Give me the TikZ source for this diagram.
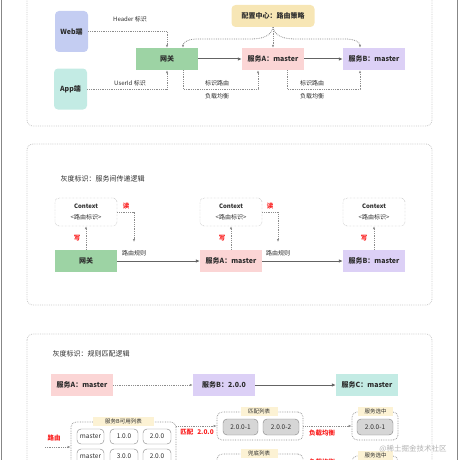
\documentclass[tikz,border=0pt]{standalone}
\usepackage{fontspec}
\setmainfont{Noto Sans CJK SC}
\usetikzlibrary{arrows.meta}

\begin{document}
\begin{tikzpicture}[x=1pt,y=-1pt,
    panel/.style={draw=panelgray,densely dotted,line width=0.8pt,rounded corners=6pt},
    svc/.style={minimum width=62pt,minimum height=22pt,inner sep=0pt,text=textdark,
        font=\fontsize{7}{8}\selectfont\bfseries},
    client/.style={svc,rounded corners=4pt,minimum width=33pt,minimum height=41pt},
    ctxbox/.style={draw=linegray,densely dotted,rounded corners=4pt,minimum width=62pt,
        minimum height=28pt,inner sep=0pt,align=center,text=textdark,font=\fontsize{6}{11}\selectfont},
    lbl/.style={text=textdark,font=\fontsize{6}{7}\selectfont},
    redlbl/.style={text=markred,font=\fontsize{6.5}{7}\selectfont\bfseries},
    flow/.style={arrowgray,line width=1pt,-{Latex[length=4pt,width=3.5pt]}},
    hint/.style={linegray,densely dotted,line width=0.8pt,-{Latex[length=3pt,width=2.5pt]}},
    group/.style={draw=linegray,densely dotted,line width=0.7pt,rounded corners=5pt,inner sep=0pt},
    tag/.style={fill=tagyellow,inner sep=0pt,minimum height=9pt,text=textdark,font=\fontsize{5.5}{6}\selectfont},
    pill/.style={draw=pillborder,rounded corners=4pt,fill=white,minimum width=27pt,
        minimum height=15pt,inner sep=0pt,text=textdark,font=\fontsize{6.5}{7}\selectfont},
    greypill/.style={pill,fill=pillgray,minimum width=35pt,minimum height=16pt}]

    \definecolor{panelgray}{RGB}{200,200,200}
    \definecolor{linegray}{RGB}{140,140,140}
    \definecolor{arrowgray}{RGB}{100,100,100}
    \definecolor{framegray}{RGB}{135,135,135}
    \definecolor{textdark}{RGB}{45,45,45}
    \definecolor{markred}{RGB}{250,30,30}
    \definecolor{gwgreen}{RGB}{157,211,164}
    \definecolor{svcpink}{RGB}{251,213,213}
    \definecolor{svclilac}{RGB}{220,208,246}
    \definecolor{webblue}{RGB}{196,205,242}
    \definecolor{appcyan}{RGB}{195,235,228}
    \definecolor{cfgyellow}{RGB}{247,230,181}
    \definecolor{tagyellow}{RGB}{252,242,212}
    \definecolor{pillgray}{RGB}{214,214,214}
    \definecolor{pillborder}{RGB}{130,130,130}

    % Page size, with what runs past the edge cut off
    \path[use as bounding box,clip] (0,0) rectangle (460,460);

    % Draw the outer frame and the three panels
    \draw[framegray,line width=1pt] (1,-5) -- (1,465);
    \draw[framegray,line width=1pt] (457,-5) -- (457,465);
    \draw[panel] (27,-10) rectangle (432,126);
    \draw[panel] (27,144) rectangle (432,305);
    \draw[panel] (27,334) rectangle (432,500);

    % Panel 1: clients, gateway, services and the config centre
    \node[client,fill=webblue] (web) at (71.5,31.5) {Web端};
    \node[client,fill=appcyan] (app) at (70.5,89) {App端};
    \node[svc,fill=gwgreen] (gw1) at (167,59) {网关};
    \node[svc,fill=svcpink] (sa1) at (273,59) {服务A：master};
    \node[svc,fill=svclilac] (sb1) at (374,59) {服务B：master};
    \node[svc,fill=cfgyellow,rounded corners=4pt,minimum width=83pt] (cfg) at (273,16) {配置中心：路由策略};

    % Draw the identifying paths into the gateway
    \draw[hint] (web.east) -| (gw1.north);
    \draw[hint] (app.east) -| (gw1.south);
    \node[lbl] (headertxt) at (130,19) {Header 标识};
    \node[lbl] (useridtxt) at (130,83) {UserId 标识};

    % Draw the calls
    \draw[flow] (gw1) -- (sa1);
    \draw[flow] (sa1) -- (sb1);

    % Draw the strategy pushed out from the config centre
    \draw[hint] (cfg.south) to[out=-100,in=0] (250,39) -- (196,39) to[out=180,in=90] ([xshift=16pt]gw1.north);
    \draw[hint] (cfg.south) -- (sa1.north);
    \draw[hint] (cfg.south) to[out=-80,in=180] (296,39) -- (347,39) to[out=0,in=90] ([xshift=-14pt]sb1.north);

    % Draw the routing and balancing paths
    \coordinate (lb1) at (183,89);
    \coordinate (lb2) at (287,89);
    \draw[hint] ([xshift=16pt]gw1.south) -- (lb1) -| ([xshift=-15pt]sa1.south);
    \draw[hint] ([xshift=14pt]sa1.south) -- (lb2) -| ([xshift=-14pt]sb1.south);
    \node[lbl] (route1txt) at (217,83) {标识路由};
    \node[lbl] (bal1txt) at (217,96) {负载均衡};
    \node[lbl] (route2txt) at (312,83) {标识路由};
    \node[lbl] (bal2txt) at (312,96) {负载均衡};

    % Panel 2: passing the mark on between services
    \node[anchor=west,text=textdark,font=\fontsize{7}{8}\selectfont] (title2) at (57,179) {灰度标识：服务间传递逻辑};
    \node[ctxbox] (ctx1) at (86,212) {\textbf{Context}\\<路由标识>};
    \node[ctxbox] (ctx2) at (231,212) {\textbf{Context}\\<路由标识>};
    \node[ctxbox] (ctx3) at (374,212) {\textbf{Context}\\<路由标识>};
    \node[svc,fill=gwgreen] (gw2) at (86,261) {网关};
    \node[svc,fill=svcpink] (sa2) at (231,261) {服务A：master};
    \node[svc,fill=svclilac] (sb2) at (374,261) {服务B：master};

    \draw[flow] (gw2) -- (sa2);
    \draw[flow] (sa2) -- (sb2);

    % Draw the write and read steps
    \draw[hint] (gw2.north) -- (ctx1.south);
    \draw[hint] (sa2.north) -- (ctx2.south);
    \draw[hint] (sb2.north) -- (ctx3.south);
    \node[redlbl] (w1) at (77,238) {写};
    \node[redlbl] (w2) at (222,238) {写};
    \node[redlbl] (w3) at (364,238) {写};

    \coordinate (rule1) at (134,242);
    \coordinate (rule2) at (278,242);
    \draw[hint] (ctx1.east) -| (rule1);
    \draw[hint] (ctx2.east) -| (rule2);
    \node[redlbl] (r1) at (126,206) {读};
    \node[redlbl] (r2) at (270,206) {读};
    \node[lbl] (rule1txt) at (134,253) {路由规则};
    \node[lbl] (rule2txt) at (278,253) {路由规则};

    % Panel 3: matching the rule
    \node[anchor=west,text=textdark,font=\fontsize{7}{8}\selectfont] (title3) at (49,354) {灰度标识：规则匹配逻辑};
    \node[svc,fill=svcpink] (sa3) at (82,385) {服务A：master};
    \node[svc,fill=svclilac] (sb3) at (224,385) {服务B：2.0.0};
    \node[svc,fill=appcyan] (sc3) at (367,385) {服务C：master};
    \draw[hint] (sa3) -- (sb3);
    \draw[flow] (sb3) -- (sc3);

    % Draw the list of instances of service B
    \node[group,minimum width=105pt,minimum height=68pt] (avail) at (123.5,456) {};
    \node[tag,minimum width=61pt] (availtag) at (123.5,421) {服务B可用列表};
    \node[pill] (inst1) at (90.5,436.5) {master};
    \node[pill,minimum width=28pt] (inst2) at (124,436.5) {1.0.0};
    \node[pill,minimum width=28pt] (inst3) at (157,436.5) {2.0.0};
    \node[pill] (inst4) at (90.5,456.5) {master};
    \node[pill,minimum width=28pt] (inst5) at (124,456.5) {3.0.0};
    \node[pill,minimum width=28pt] (inst6) at (157,456.5) {2.0.0};

    \coordinate (routein) at (45,447);
    \draw[hint] (routein) -- (routein -| avail.west);
    \node[redlbl] (routetxt) at (54,438) {路由};

    % Draw the matched list and the chosen instance
    \node[group,minimum width=86pt,minimum height=28pt] (match) at (260,426) {};
    \node[tag,minimum width=37pt] (matchtag) at (259,411) {匹配列表};
    \node[greypill] (hit1) at (240.5,427) {2.0.0-1};
    \node[greypill,minimum width=36pt] (hit2) at (281,427) {2.0.0-2};

    \node[group,minimum width=46pt,minimum height=28pt] (pick) at (375,426) {};
    \node[tag,minimum width=35pt] (picktag) at (375.5,411) {服务选中};
    \node[greypill,minimum width=36pt] (chosen) at (375,427) {2.0.0-1};

    \draw[hint] (match.west -| avail.east) -- (match.west);
    \draw[hint] (match) -- (pick);
    \node[redlbl] (matchtxt) at (197,432) {匹配\hspace{4pt}2.0.0};
    \node[redlbl] (bal3txt) at (322,433) {负载均衡};

    % Draw the fallback row, cut by the page edge
    \node[group,minimum width=86pt,minimum height=28pt] (fallback) at (260,468) {};
    \node[tag,minimum width=37pt] (fallbacktag) at (259,453) {兜底列表};
    \node[group,minimum width=46pt,minimum height=28pt] (pick2) at (375,470) {};
    \node[tag,minimum width=35pt] (pick2tag) at (375.5,455) {服务选中};
    \node[redlbl] (bal4txt) at (322,462) {负载均衡};

    % Watermark
    \node[text=black!30,font=\fontsize{7.5}{8}\selectfont] (mark) at (413,449) {@稀土掘金技术社区};

\end{tikzpicture}
\end{document}
